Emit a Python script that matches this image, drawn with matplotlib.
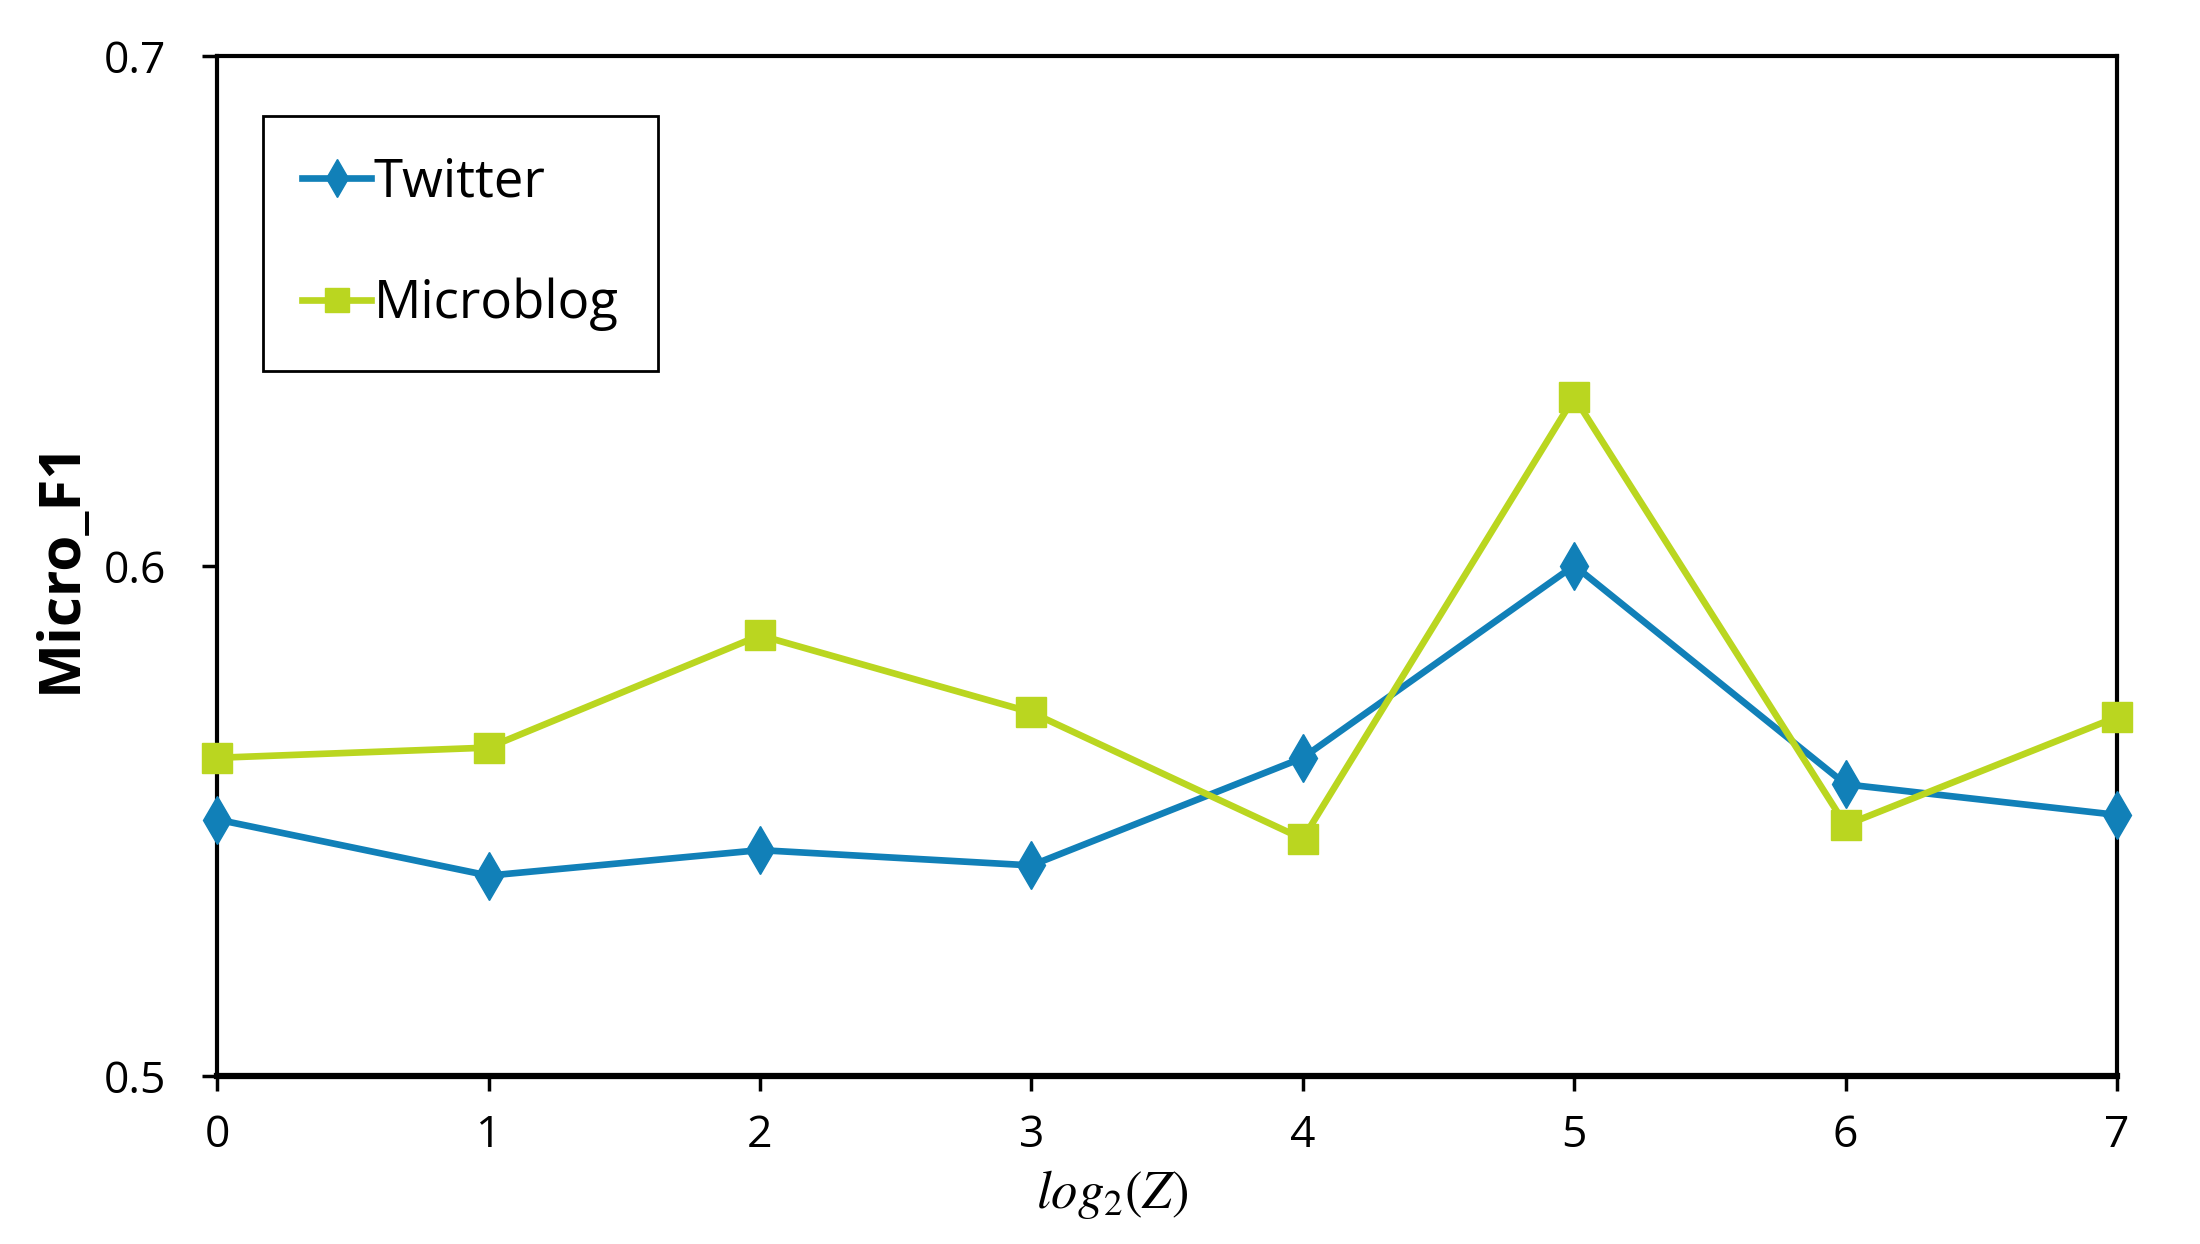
import matplotlib
matplotlib.use('Agg')
import matplotlib.pyplot as plt

# datos
z_log = [0, 1, 2, 3, 4, 5, 6, 7]
twitter = [0.5503, 0.5393, 0.5443, 0.5413, 0.5624, 0.6001, 0.5572, 0.5512]
microblog = [0.5624, 0.5644, 0.5864, 0.5713, 0.5465, 0.6331, 0.5492, 0.5704]
y_ticks = [0.5, 0.6, 0.7]

plt.rcParams['font.family'] = ['Open Sans', 'DejaVu Sans']
plt.rcParams['mathtext.fontset'] = 'stix'

fig = plt.figure(figsize=(22, 12.44), dpi=100)
ax = fig.add_axes([0.0987, 0.135, 0.8636, 0.820])

ax.plot(z_log, twitter, color='#1180b8', lw=4.8, marker='d', ms=24,
        label='Twitter', clip_on=False, zorder=3)
ax.plot(z_log, microblog, color='#bad620', lw=4.8, marker='s', ms=22,
        label='Microblog', clip_on=False, zorder=3)

ax.set_xlim(0, 7)
ax.set_ylim(0.5, 0.7)
ax.set_xticks(z_log)
ax.set_yticks(y_ticks)
ax.set_yticklabels(['0.5', '0.6', '0.7'])

for s in ['left', 'right', 'top']:
    ax.spines[s].set_linewidth(3)
ax.spines['bottom'].set_linewidth(4.5)

ax.tick_params(axis='both', direction='out', length=11, width=2.5,
               labelsize=32, colors='black')
ax.tick_params(axis='x', pad=16)
ax.tick_params(axis='y', pad=26)

ax.set_ylabel('Micro_F1', fontsize=42, fontweight='bold')
ax.yaxis.set_label_coords(-0.067, 0.5)
ax.set_xlabel('$log_2(Z)$', fontsize=38)
ax.xaxis.set_label_coords(0.471, -0.09)

leg = ax.legend(loc='upper left', bbox_to_anchor=(0.024, 0.941),
                borderaxespad=0, fontsize=38, fancybox=False,
                edgecolor='black', framealpha=1, labelspacing=1.3,
                handlelength=1.3, handletextpad=0.05, borderpad=0.75,
                markerscale=0.8)
leg.get_frame().set_linewidth(2)

fig.savefig('out.png')
